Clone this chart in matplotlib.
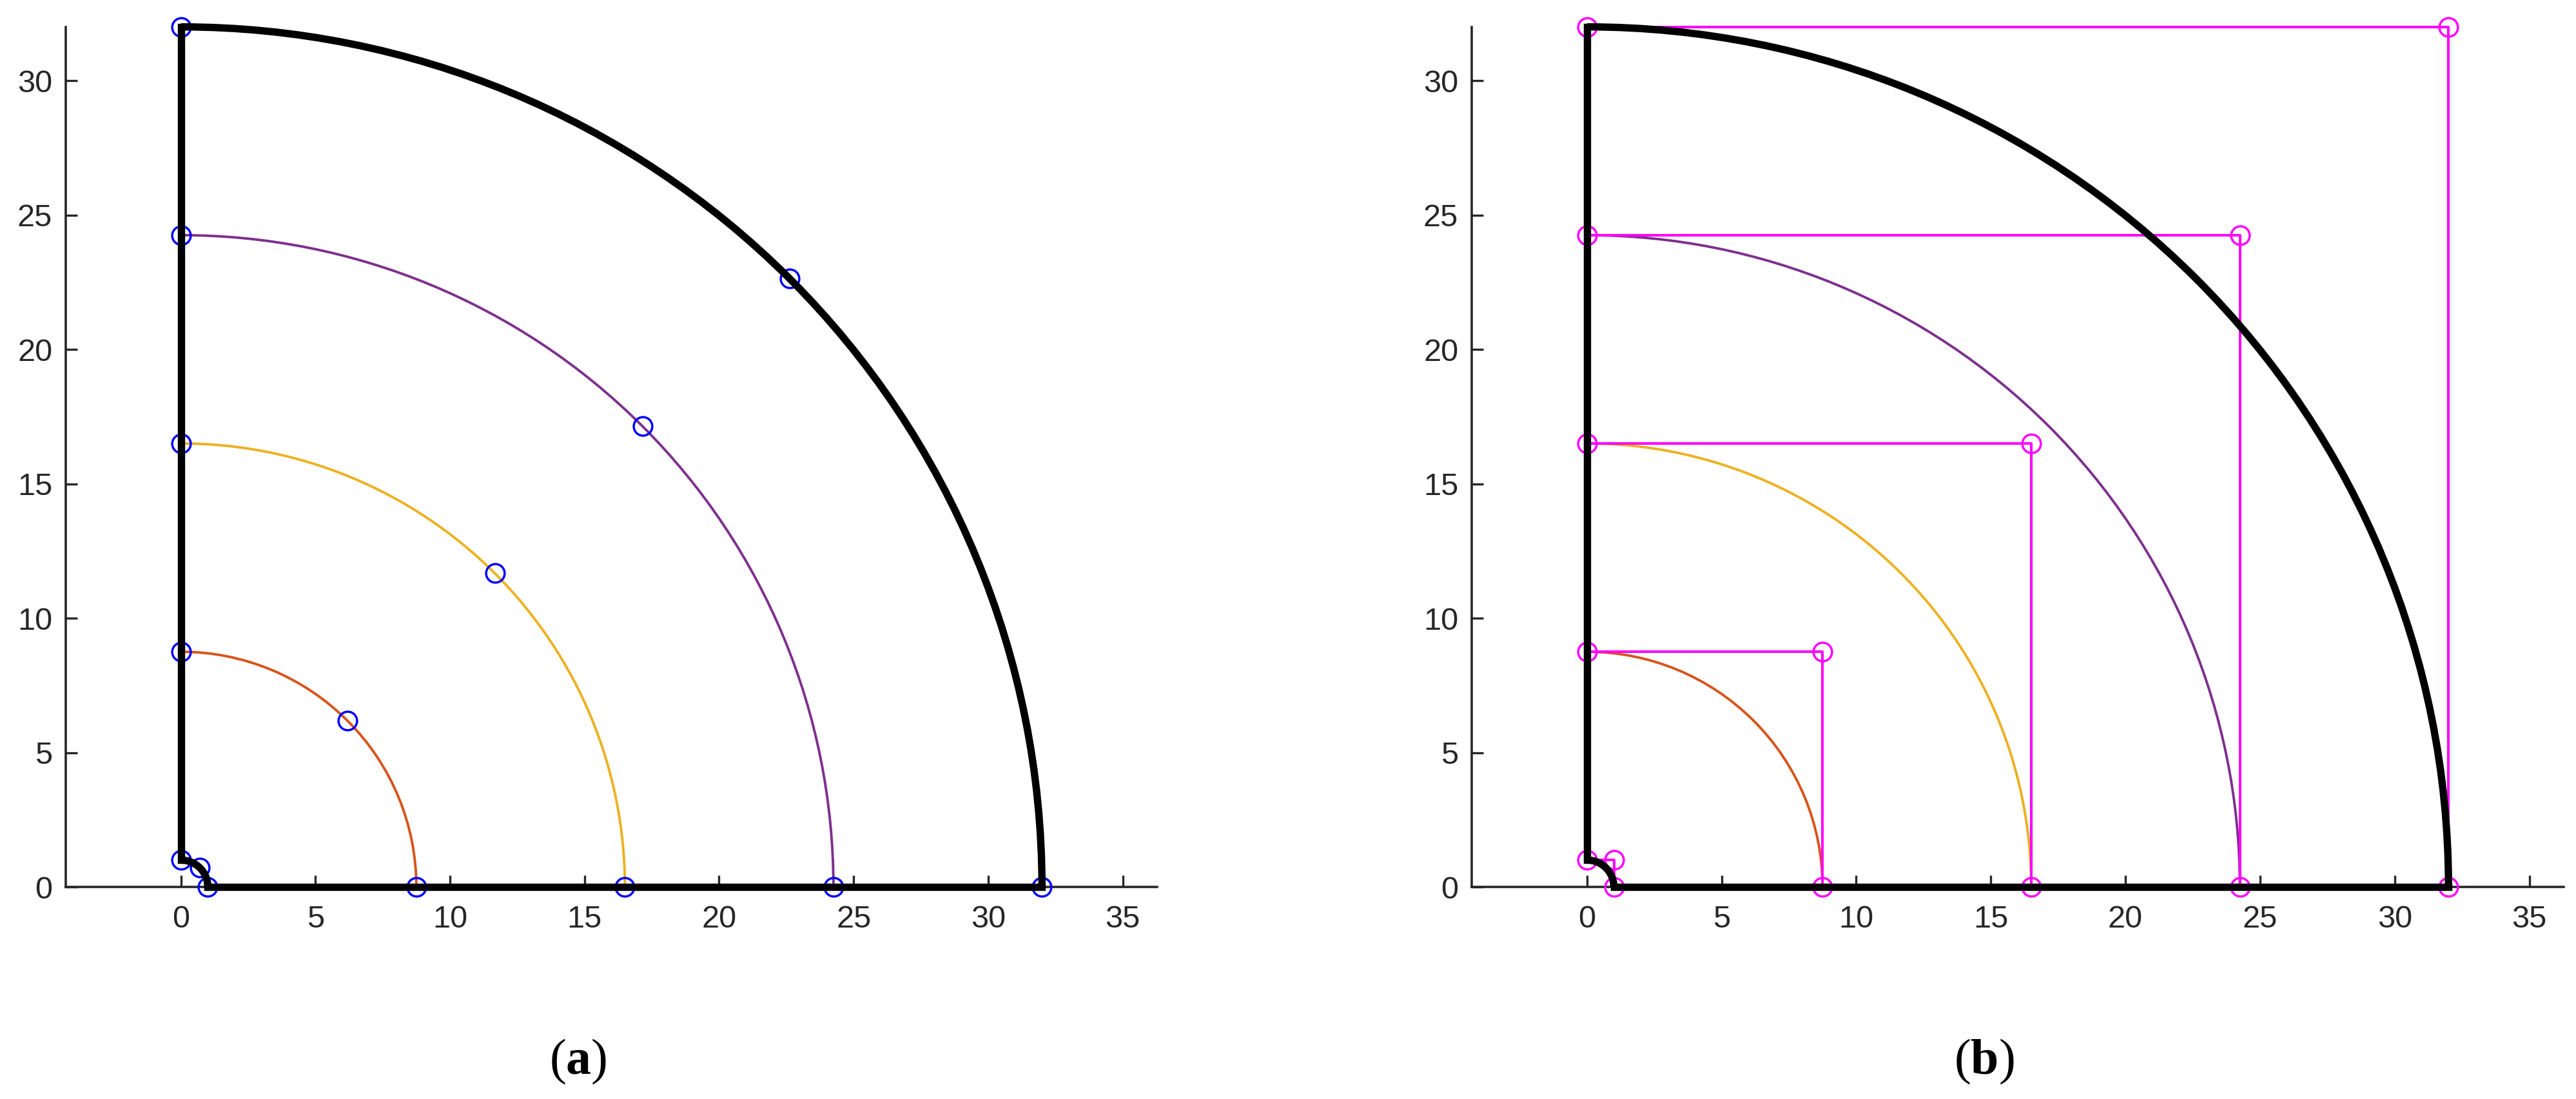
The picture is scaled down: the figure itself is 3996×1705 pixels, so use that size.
import numpy as np
import matplotlib.pyplot as plt
from matplotlib.patches import Arc

# radii of the quarter circles (inner, three middle ones, outer)
radii = [1, 8.75, 16.5, 24.25, 32]
# 45 degree points on each arc (x = y)
mid = [0.71, 6.19, 11.67, 17.15, 22.63]
arc_colors = ['#D95319', '#EDB120', '#7E2F8E']
xticks = [0, 5, 10, 15, 20, 25, 30, 35]
yticks = [0, 5, 10, 15, 20, 25, 30]
panel_labels = ['a', 'b']

plt.rcParams['font.family'] = ['Liberation Sans', 'DejaVu Sans']
plt.rcParams['mathtext.fontset'] = 'custom'
plt.rcParams['mathtext.rm'] = 'Liberation Serif'
plt.rcParams['mathtext.bf'] = 'Liberation Serif:bold'

W, H = 3996, 1705
fig = plt.figure(figsize=(W / 100, H / 100), dpi=100)

axc = '#262626'
bottom = 1 - 1376 / H
height = (1376 - 41.7) / H
ax1 = fig.add_axes([102 / W, bottom, (1795 - 102) / W, height])
ax2 = fig.add_axes([2283 / W, bottom, (3977 - 2283) / W, height])


def boundary(ax):
    # thick black outline of the quarter ring
    kw = dict(color='black', lw=8.2, solid_capstyle='projecting', clip_on=False, zorder=5)
    ax.plot([radii[0], radii[-1]], [0, 0], **kw)
    ax.plot([0, 0], [radii[0], radii[-1]], **kw)
    for r in (radii[0], radii[-1]):
        ax.add_patch(Arc((0, 0), 2 * r, 2 * r, theta1=0, theta2=90, color='black',
                         lw=8.2, clip_on=False, zorder=5))


def middle_arcs(ax):
    for r, c in zip(radii[1:4], arc_colors):
        ax.add_patch(Arc((0, 0), 2 * r, 2 * r, theta1=0, theta2=90, color=c,
                         lw=2.8, clip_on=False, zorder=2))


def style(ax):
    ax.set_xlim(-4.28, 36.28)
    ax.set_ylim(0, 32)
    ax.set_xticks(xticks)
    ax.set_yticks(yticks)
    for s in ['top', 'right']:
        ax.spines[s].set_visible(False)
    for s in ['left', 'bottom']:
        ax.spines[s].set_color(axc)
        ax.spines[s].set_linewidth(2.6)
    ax.tick_params(axis='both', direction='in', length=13, width=2.4, colors=axc,
                   labelsize=35)
    ax.tick_params(axis='x', pad=20)
    ax.tick_params(axis='y', pad=15)


# (a) arcs with points on axes and at 45 degrees
middle_arcs(ax1)
for r, m in zip(radii, mid):
    ax1.plot([0, m, r], [r, m, 0], ls='none', marker='o', ms=20.7, mfc='none',
             mec='#0000FF', mew=2.5, clip_on=False, zorder=3)
boundary(ax1)
style(ax1)

# (b) arcs with their bounding squares
middle_arcs(ax2)
for r in radii:
    ax2.plot([0, r, r], [r, r, 0], color='#FF00FF', lw=2.9, marker='o', ms=20.7,
             mfc='none', mec='#FF00FF', mew=2.5, clip_on=False, zorder=3)
boundary(ax2)
style(ax2)

for lab, xc in zip(panel_labels, [897, 3078]):
    fig.text(xc / W, 1 - 1647 / H, r'$(\mathbf{' + lab + '})$', fontsize=56,
             ha='center', va='center')

fig.savefig('out.png', dpi=100)
